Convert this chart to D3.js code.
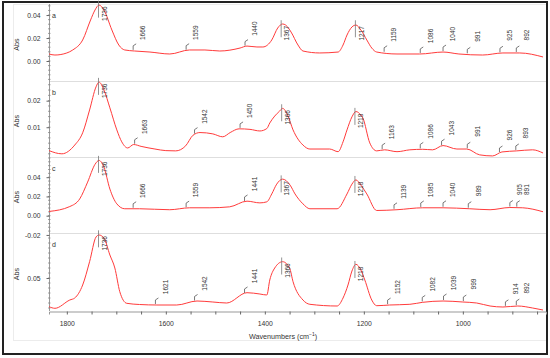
<!DOCTYPE html>
<html><head><meta charset="utf-8">
<script src="https://cdn.jsdelivr.net/npm/d3@7"></script>
<style>body{margin:0;background:#fff} text{font-family:"Liberation Sans",Arial,sans-serif}</style>
</head><body><svg id="chart" width="550" height="358"></svg>
<script>
// ---- data ----
const panelNames = ["a","b","c","d"];
const xTicks = [1800,1600,1400,1200,1000];
const xDomain = [1836, 832];

const aWn = [1836,1824,1800,1788,1768,1752,1743,1735,1725,1709,1695,1683,1663,1632,1592,1552,1521,1491,1450,1436,1416,1404,1386,1374,1364,1358,1347,1333,1323,1289,1252,1242,1234,1224,1216,1206,1194,1184,1174,1133,1087,1040,1008,960,919,885,838];
const aAbs = [0.0061,0.0052,0.0070,0.0096,0.0183,0.0357,0.0444,0.0487,0.0444,0.0270,0.0139,0.0096,0.0087,0.0078,0.0061,0.0096,0.0096,0.0087,0.0113,0.0130,0.0122,0.0122,0.0183,0.0287,0.0322,0.0313,0.0252,0.0139,0.0087,0.0070,0.0078,0.0139,0.0226,0.0296,0.0313,0.0270,0.0183,0.0113,0.0078,0.0061,0.0061,0.0078,0.0061,0.0052,0.0070,0.0070,0.0035];

const bWn = [1836,1810,1784,1768,1754,1741,1735,1725,1713,1699,1689,1677,1665,1650,1622,1600,1580,1560,1545,1531,1505,1485,1470,1452,1430,1410,1396,1390,1380,1370,1364,1354,1343,1323,1309,1269,1252,1242,1234,1224,1216,1206,1202,1188,1174,1158,1133,1107,1081,1061,1040,1012,992,966,940,921,891,859,838];
const bAbs = [0.0012,0.0000,0.0033,0.0079,0.0165,0.0252,0.0270,0.0240,0.0173,0.0090,0.0045,0.0022,0.0035,0.0028,0.0018,0.0012,0.0011,0.0030,0.0070,0.0080,0.0075,0.0064,0.0080,0.0094,0.0092,0.0086,0.0095,0.0116,0.0142,0.0161,0.0171,0.0146,0.0090,0.0033,0.0018,0.0018,0.0008,0.0045,0.0090,0.0139,0.0159,0.0146,0.0135,0.0041,0.0011,0.0015,0.0008,0.0015,0.0017,0.0015,0.0031,0.0018,0.0018,-0.0004,-0.0008,0.0007,0.0011,0.0015,0.0003];

const cWn = [1836,1794,1774,1758,1743,1735,1725,1713,1699,1683,1653,1592,1552,1511,1471,1436,1410,1396,1386,1376,1364,1349,1339,1323,1309,1254,1234,1224,1216,1206,1194,1174,1133,1081,1040,986,945,905,879,838];
const cAbs = [0.0044,0.0095,0.0174,0.0349,0.0534,0.0575,0.0503,0.0277,0.0123,0.0072,0.0072,0.0062,0.0082,0.0082,0.0092,0.0151,0.0133,0.0144,0.0226,0.0328,0.0380,0.0318,0.0226,0.0123,0.0072,0.0072,0.0226,0.0328,0.0372,0.0318,0.0226,0.0054,0.0062,0.0082,0.0082,0.0072,0.0062,0.0085,0.0082,0.0041];

const dWn = [1836,1824,1794,1784,1768,1754,1741,1735,1725,1713,1703,1693,1679,1653,1618,1578,1537,1505,1477,1436,1410,1396,1390,1380,1364,1350,1343,1323,1309,1254,1242,1232,1224,1216,1206,1198,1184,1174,1148,1107,1081,1040,1000,972,945,919,889,859,838];
const dAbs = [0.0213,0.0197,0.0280,0.0300,0.0430,0.0663,0.0910,0.0930,0.0900,0.0730,0.0600,0.0363,0.0247,0.0235,0.0230,0.0230,0.0270,0.0260,0.0250,0.0353,0.0340,0.0330,0.0480,0.0600,0.0663,0.0600,0.0463,0.0280,0.0237,0.0220,0.0300,0.0430,0.0570,0.0637,0.0580,0.0480,0.0280,0.0223,0.0230,0.0237,0.0257,0.0270,0.0260,0.0250,0.0220,0.0210,0.0220,0.0200,0.0180];

const aPeaks = [1736,1666,1559,1440,1367,1217,1159,1086,1040,991,925,892];
const bPeaks = [1736,1663,1542,1450,1366,1218,1163,1086,1043,991,926,893];
const cPeaks = [1736,1666,1559,1441,1367,1218,1139,1085,1040,989,905,891];
const dPeaks = [1736,1621,1542,1441,1366,1218,1152,1082,1039,999,914,892];

const aDomain = [-0.0174, 0.0496], bDomain = [-0.0012, 0.0274], cDomain = [-0.0180, 0.0610], dDomain = [0.017, 0.095];
const aTicks = [0, 0.02, 0.04], bTicks = [0.01, 0.02], cTicks = [-0.02, 0, 0.02, 0.04], dTicks = [0.05];
const aMinor = 0.004, bMinor = 0.002, cMinor = 0.004, dMinor = 0.005;

// ---- layout ----
const L = 49, R = 546;
const bands = [[4,81],[81,157],[157,233],[233,311]];
const panels = [
  {wn:aWn, abs:aAbs, peaks:aPeaks, dom:aDomain, ticks:aTicks, minor:aMinor},
  {wn:bWn, abs:bAbs, peaks:bPeaks, dom:bDomain, ticks:bTicks, minor:bMinor},
  {wn:cWn, abs:cAbs, peaks:cPeaks, dom:cDomain, ticks:cTicks, minor:cMinor},
  {wn:dWn, abs:dAbs, peaks:dPeaks, dom:dDomain, ticks:dTicks, minor:dMinor}
];

const svg = d3.select("#chart");
svg.append("rect").attr("x",0).attr("y",0).attr("width",550).attr("height",358).attr("fill","#fff");
svg.append("rect").attr("x",13.5).attr("y",4.5).attr("width",533).attr("height",336).attr("fill","none").attr("stroke","#ececec");
svg.append("rect").attr("x",3).attr("y",2).attr("width",544).attr("height",352).attr("fill","none").attr("stroke","#222").attr("stroke-width",2);

const x = d3.scaleLinear().domain(xDomain).range([L, R]);

[81,157,233].forEach(yy => svg.append("line").attr("x1",L).attr("x2",R).attr("y1",yy+0.5).attr("y2",yy+0.5).attr("stroke","#dedede"));

svg.append("line").attr("x1",L+0.5).attr("x2",L+0.5).attr("y1",4).attr("y2",311).attr("stroke","#999");

panels.forEach((p, i) => {
  const [top, bot] = bands[i];
  const y = d3.scaleLinear().domain(p.dom).range([bot, top]);
  const g = svg.append("g");
  const start = Math.ceil(p.dom[0]/p.minor)*p.minor;
  d3.range(start, p.dom[1], p.minor).forEach(v => {
    g.append("line").attr("x1",L-1).attr("x2",L+1.5).attr("y1",y(v)).attr("y2",y(v)).attr("stroke","#888").attr("stroke-width",0.8);
  });
  const ax = g.append("g").attr("transform",`translate(${L+0.5},0)`)
    .call(d3.axisLeft(y).tickValues(p.ticks).tickSize(3).tickPadding(6).tickFormat(v => v.toFixed(2)));
  ax.select(".domain").remove();
  ax.selectAll(".tick line").attr("stroke","#666");
  ax.selectAll(".tick text").attr("font-size",6.8).attr("fill","#333").attr("font-family","Liberation Sans, Arial, sans-serif");
  g.append("text").attr("transform",`translate(19,${(top+bot)/2+2}) rotate(-90)`).attr("text-anchor","middle")
    .attr("font-size",7.2).attr("fill","#333").text("Abs");
  g.append("text").attr("x",L+3).attr("y",top+14).attr("font-size",7).attr("fill","#333").text(panelNames[i]);

  const pts = p.wn.map((w, k) => [w, p.abs[k]]);
  const line = d3.line().x(d => x(d[0])).y(d => y(d[1])).curve(d3.curveMonotoneX);
  g.append("path").attr("d", line(pts)).attr("fill","none").attr("stroke","#ff3b3b").attr("stroke-width",1);

  const interp = w => {
    for (let k = 0; k < pts.length-1; k++) {
      if (w <= pts[k][0] && w >= pts[k+1][0]) {
        const t = (pts[k][0]-w)/(pts[k][0]-pts[k+1][0]);
        return pts[k][1] + t*(pts[k+1][1]-pts[k][1]);
      }
    }
    return pts[pts.length-1][1];
  };
  p.peaks.forEach(pk => {
    const px = x(pk), py = y(interp(pk));
    const major = (py - 20) < top + 18;
    let cy, cx;
    if (major) {
      g.append("line").attr("x1",px).attr("x2",px).attr("y1",py-5).attr("y2",py+12).attr("stroke","#777").attr("stroke-width",0.8);
      cy = py + 8; cx = px + 6;
    } else {
      g.append("path").attr("d",`M${px},${py-1}L${px},${py-5}L${px+3},${py-7}`).attr("fill","none").attr("stroke","#555").attr("stroke-width",0.8);
      cy = py - 18; cx = px + 10;
    }
    g.append("text").attr("transform",`translate(${cx+2.3},${cy}) rotate(-90)`).attr("text-anchor","middle")
      .attr("font-size",6.5).attr("fill","#333").text(pk);
  });
});

const xa = svg.append("g").attr("transform","translate(0,311.5)")
  .call(d3.axisBottom(x).tickValues(d3.range(850,1801,50)).tickSize(3).tickPadding(7).tickFormat(d => xTicks.includes(d) ? d : ""));
xa.select(".domain").attr("stroke","#999");
xa.selectAll(".tick line").attr("stroke","#666");
xa.selectAll(".tick text").attr("font-size",6.8).attr("fill","#333").attr("font-family","Liberation Sans, Arial, sans-serif");

const title = svg.append("text").attr("x",283).attr("y",339).attr("text-anchor","middle").attr("font-size",7.2).attr("fill","#333");
title.append("tspan").text("Wavenumbers (cm");
title.append("tspan").attr("font-size",5).attr("dy",-3).text("−1");
title.append("tspan").attr("dy",3).text(")");
</script>
</body></html>
